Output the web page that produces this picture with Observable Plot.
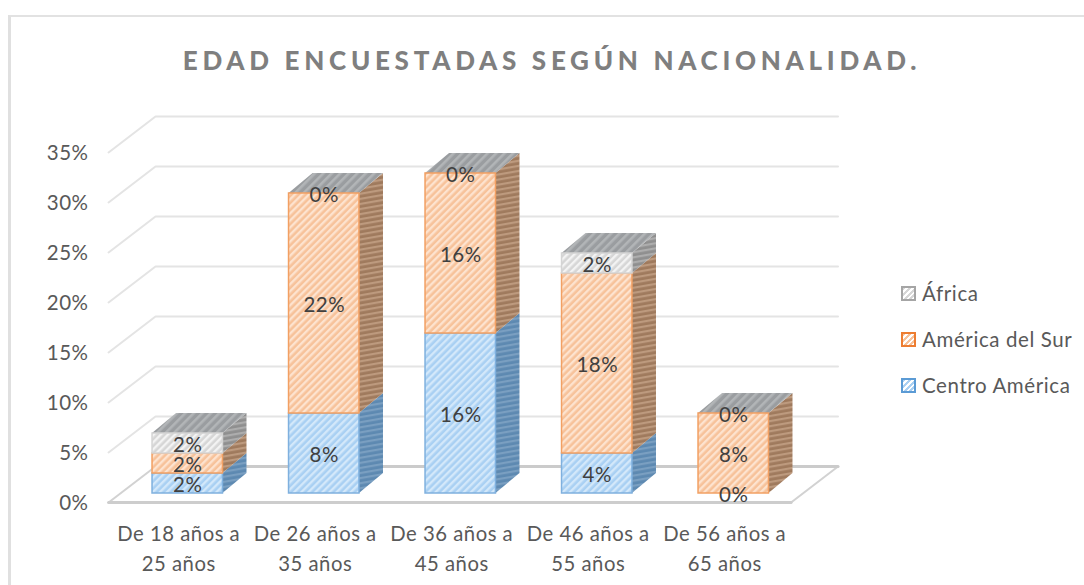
<!DOCTYPE html>
<html lang="es">
<head>
<meta charset="utf-8">
<script src="https://cdn.jsdelivr.net/npm/d3@7"></script>
<script src="https://cdn.jsdelivr.net/npm/@observablehq/plot@0.6"></script>
<style>
  html, body { margin: 0; padding: 0; background: #fff; overflow: hidden; }
  #page { position: absolute; left: 8px; top: 15px; width: 1076px; height: 570px; box-sizing: border-box;
          border-left: 3px solid #e0e0e0; border-top: 2px solid #e2e2e2; font-family: Lato, sans-serif; }
  #title { height: 85px; line-height: 87px; text-align: center; padding-left: 9px; white-space: nowrap; width: 1064px;
           font-size: 26px; font-weight: 900; letter-spacing: 4.7px; color: #7f7f7f; }
  #row { display: flex; align-items: flex-start; }
  #legend { margin: 168px 0 0 30px; color: #595959; font-size: 20.5px; letter-spacing: .6px; }
  #legend div { display: flex; align-items: center; height: 46px; white-space: nowrap; }
  #legend i { display: inline-block; width: 11px; height: 11px; margin-right: 6px; border: 2px solid; }
  svg text { letter-spacing: .5px; }
</style>
</head>
<body>
<div id="page">
  <div id="title">EDAD ENCUESTADAS SEGÚN NACIONALIDAD.</div>
  <div id="row">
    <div id="plot"></div>
    <div id="legend"></div>
  </div>
</div>
<script>
// ---- data ----
const categories = ["De 18 años a\n25 años", "De 26 años a\n35 años", "De 36 años a\n45 años", "De 46 años a\n55 años", "De 56 años a\n65 años"];
const centroAmerica = [2, 8, 16, 4, 0];
const americaDelSur = [2, 22, 16, 18, 8];
const africa = [2, 0, 0, 2, 0];
const yTicks = [0, 5, 10, 15, 20, 25, 30, 35];
const seriesNames = ["Centro América", "América del Sur", "África"];
const seriesValues = [centroAmerica, americaDelSur, africa];

// ---- styles ----
const edge = ["#7fb0de", "#f2a063", "#d4d4d4"];
const legendEdge = ["#5b9bd5", "#ed7d31", "#a5a5a5"];
const patterns = [
  {id: "f0", bg: "#a9d0f3", fg: "#d3e8fa", w: 5, s: 2.4, a: 45},
  {id: "f1", bg: "#f7c29a", fg: "#fde3cf", w: 5, s: 2.4, a: 45},
  {id: "f2", bg: "#d6d6d6", fg: "#f3f3f3", w: 5, s: 2.4, a: 45},
  {id: "s0", bg: "#5d89b1", fg: "#7a9fc1", w: 5, s: 2.2, a: 80},
  {id: "s1", bg: "#9f7a5d", fg: "#bd9a7e", w: 5, s: 2.2, a: 80},
  {id: "s2", bg: "#8f8f8f", fg: "#adadad", w: 5, s: 2.2, a: 80},
  {id: "top", bg: "#9a9da0", fg: "#b2b5b7", w: 6, s: 2.6, a: 45}
];

// ---- 3-D projection offsets, in data units (x: one category, y: one percent) ----
const barHalf = 0.258;              // half of a bar's width
const depthX = 0.176, depthY = 2;   // depth of a bar
const floorLeft = -0.5, floorSpan = 5;
const frontX = -0.08, frontY = -0.9; // front edge of the floor and side wall
const backX = 0.264, backY = 2.7;    // back wall

// ---- tables built from the arrays ----
const segments = [];
const tops = [];
categories.forEach((c, i) => {
  let base = 0;
  seriesValues.forEach((vals, s) => {
    const v = vals[i];
    segments.push({i, s, v, y0: base, y1: base + v, x0: i - barHalf, x1: i + barHalf});
    base += v;
  });
  tops.push({i, top: base, x0: i - barHalf, x1: i + barHalf});
});
const visible = segments.filter(d => d.v > 0);

const sideFaces = visible.flatMap((d, k) => [
  {k, s: d.s, x: d.x1, y1: d.y0, y2: d.y1},
  {k, s: d.s, x: d.x1 + depthX, y1: d.y0 + depthY, y2: d.y1 + depthY}
]);
const topFaces = tops.flatMap(d => [
  {i: d.i, y: d.top, x1: d.x0, x2: d.x1},
  {i: d.i, y: d.top + depthY, x1: d.x0 + depthX, x2: d.x1 + depthX}
]);
const gridLines = yTicks.filter(t => t > 0).flatMap(t => [
  {t, x: floorLeft + frontX, y: t + frontY},
  {t, x: floorLeft + backX, y: t + backY},
  {t, x: floorLeft + backX + floorSpan, y: t + backY}
]);
const floorBack = [{x: floorLeft + backX, y: backY}, {x: floorLeft + backX + floorSpan, y: backY}];
const floorFront = [{x: floorLeft + frontX, y: frontY}, {x: floorLeft + frontX + floorSpan, y: frontY}];
const floorSides = [
  {e: 0, x: floorLeft + frontX, y: frontY}, {e: 0, x: floorLeft + backX, y: backY},
  {e: 1, x: floorLeft + frontX + floorSpan, y: frontY}, {e: 1, x: floorLeft + backX + floorSpan, y: backY}
];

const chart = Plot.plot({
  width: 860, height: 483,
  marginLeft: 108, marginRight: 69.5, marginTop: 41, marginBottom: 92,
  x: {domain: [-0.5, 4.5], axis: null},
  y: {domain: [0, 35], axis: null},
  style: {background: "transparent", fontFamily: "Lato, sans-serif", fontSize: "20px", color: "#595959", overflow: "visible"},
  marks: [
    Plot.line(gridLines, {x: "x", y: "y", z: "t", stroke: "#e4e4e4", strokeWidth: 2}),
    Plot.line(floorSides, {x: "x", y: "y", z: "e", stroke: "#d2d2d2", strokeWidth: 2}),
    Plot.line(floorBack, {x: "x", y: "y", stroke: "#cbcbcb", strokeWidth: 3}),
    Plot.line(floorFront, {x: "x", y: "y", stroke: "#cdcdcd", strokeWidth: 3}),
    Plot.axisY({ticks: yTicks, tickFormat: d => d + "%", tickSize: 0, tickPadding: 31, dy: 10, fontSize: 20.5, label: null}),
    Plot.axisX({ticks: categories.map((c, i) => i), tickFormat: i => categories[i], tickSize: 0, tickPadding: 26, dx: -9, fontSize: 20.3, lineHeight: 1.48, lineAnchor: "top", label: null}),
    // bars: depth side, top, then front
    Plot.areaY(sideFaces, {x: "x", y1: "y1", y2: "y2", z: "k", fill: d => `url(#s${d.s})`, stroke: null}),
    Plot.areaX(topFaces, {y: "y", x1: "x1", x2: "x2", z: "i", fill: "url(#top)"}),
    Plot.rect(visible, {x1: "x0", x2: "x1", y1: "y0", y2: "y1", fill: d => `url(#f${d.s})`, stroke: d => edge[d.s], strokeWidth: 1.5}),
    Plot.text(segments, {x: "i", y: d => d.y0 + d.v / 2, text: d => d.v + "%", dy: 2, fontSize: 20.5, fill: "#404040"})
  ]
});

const defs = d3.select(chart).insert("defs", ":first-child");
patterns.forEach(p => {
  const pat = defs.append("pattern").attr("id", p.id).attr("patternUnits", "userSpaceOnUse")
    .attr("width", p.w).attr("height", p.w).attr("patternTransform", `rotate(${p.a})`);
  pat.append("rect").attr("width", p.w).attr("height", p.w).attr("fill", p.bg);
  pat.append("rect").attr("width", p.s).attr("height", p.w).attr("fill", p.fg);
});
document.getElementById("plot").append(chart);

// ---- legend ----
const legend = d3.select("#legend");
[2, 1, 0].forEach(s => {
  const row = legend.append("div");
  const p = patterns[s];
  row.append("i").style("border-color", legendEdge[s])
    .style("background", `repeating-linear-gradient(135deg, ${p.bg} 0 2px, #fff 2px 4px)`);
  row.append("span").text(seriesNames[s]);
});
</script>
</body>
</html>
